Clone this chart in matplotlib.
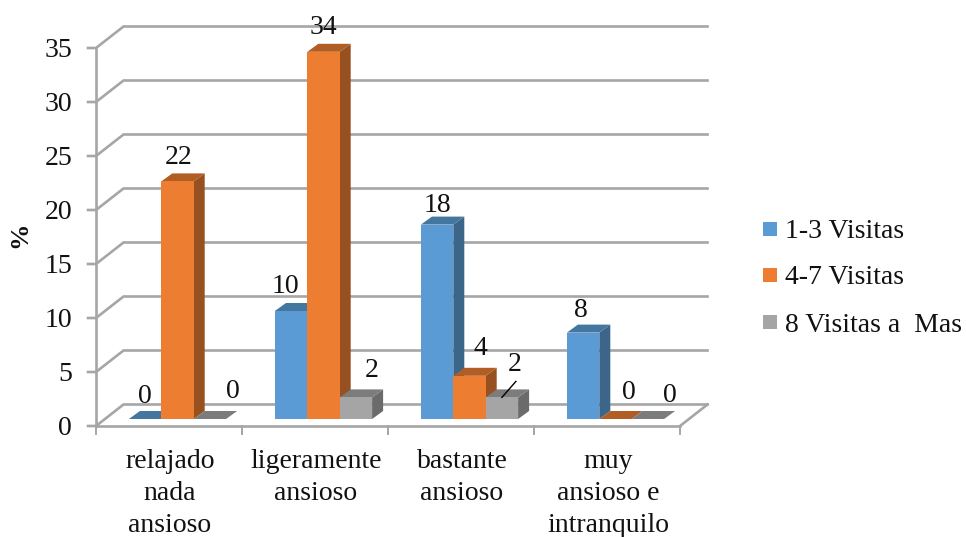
import matplotlib
matplotlib.use("Agg")
import matplotlib.pyplot as plt
from matplotlib.patches import Polygon, Rectangle

categories = ["relajado\nnada\nansioso", "ligeramente\nansioso", "bastante\nansioso", "muy\nansioso e\nintranquilo"]
series_names = ["1-3 Visitas", "4-7 Visitas", "8 Visitas a  Mas"]
visitas_1_3 = [0, 10, 18, 8]
visitas_4_7 = [22, 34, 4, 0]
visitas_8_mas = [0, 2, 2, 0]
y_ticks = [0, 5, 10, 15, 20, 25, 30, 35]

series = [visitas_1_3, visitas_4_7, visitas_8_mas]
front = ["#5B9BD5", "#ED7D31", "#A5A5A5"]
top = ["#44779F", "#B15E24", "#7C7C7C"]
side = ["#3B6589", "#97501F", "#6B6B6B"]
grid = "#A6A6A6"
text_col = "#111111"
fs = 20

W, H = 966, 537
plt.rcParams["font.family"] = ["Liberation Serif", "DejaVu Serif"]
fig = plt.figure(figsize=(W / 100, H / 100), dpi=100)
ax = fig.add_axes([96 / W, 1 - 426 / H, (680 - 96) / W, (426 - 48) / H])
ax.set_xlim(0, 4)
ax.set_ylim(0, 35)
ax.axis("off")

# 3d offsets, in data units
ux = 146.0
uy = 10.8
wall_dx, wall_dy = 27.5 / ux, 21.5 / uy
bar_dx, bar_dy = 11 / ux, 8 / uy
base_dx, base_dy = 8.5 / ux, 7 / uy
bar_w = 32.4 / ux

lw = 1.9
for v in y_ticks:
    ax.plot([-8 / ux, 0, wall_dx, 4 + wall_dx], [v, v, v + wall_dy, v + wall_dy],
            color=grid, lw=lw, clip_on=False, solid_joinstyle="miter", zorder=1)
ax.plot([4, 4 + wall_dx], [0, wall_dy], color=grid, lw=lw, clip_on=False, zorder=1)
ax.plot([0, 0], [0, 35], color=grid, lw=lw, clip_on=False, zorder=1)
ax.plot([0, 4], [0, 0], color=grid, lw=lw, clip_on=False, zorder=1)
for i in range(5):
    ax.plot([i, i], [0, -8 / uy], color=grid, lw=1.4, clip_on=False, zorder=1)

for v in y_ticks:
    ax.text(-24 / ux, v - 0.2, str(v), ha="right", va="center", fontsize=fs, color=text_col)
ax.text(-76 / ux, 17.5 + 0.2, "%", rotation=90, ha="center", va="center",
        fontsize=19, fontweight="bold", color=text_col)

# bars, drawn left to right so each one covers the side of the previous
for c in range(len(categories)):
    for s in range(len(series)):
        x0 = c + 0.5 + (s - 1.5) * bar_w + base_dx
        y0 = base_dy
        v = series[s][c]
        x1 = x0 + bar_w
        y1 = y0 + v
        ax.add_patch(Polygon([(x1, y0), (x1 + bar_dx, y0 + bar_dy), (x1 + bar_dx, y1 + bar_dy), (x1, y1)],
                             fc=side[s], ec="none", clip_on=False, zorder=3))
        ax.add_patch(Polygon([(x0, y1), (x1, y1), (x1 + bar_dx, y1 + bar_dy), (x0 + bar_dx, y1 + bar_dy)],
                             fc=top[s], ec="none", clip_on=False, zorder=3))
        ax.add_patch(Rectangle((x0, y0), bar_w, v, fc=front[s], ec="none", clip_on=False, zorder=3))

label_pos = {
    (0, 0): (-6, -2), (0, 1): (-4, -1), (0, 2): (17, 3),
    (1, 0): (-11, 0), (1, 1): (-6, 0), (1, 2): (10, 2),
    (2, 0): (-5, -5), (2, 1): (5, 3), (2, 2): (7, 8),
    (3, 0): (-8, -2), (3, 1): (8, 2), (3, 2): (16, -1),
}
for c in range(len(categories)):
    for s in range(len(series)):
        x0 = c + 0.5 + (s - 1.5) * bar_w + base_dx
        v = series[s][c]
        ox, oy = label_pos[(c, s)]
        ax.text(x0 + bar_w / 2 + bar_dx / 2 + ox / ux, base_dy + v + bar_dy + (4 + oy) / uy, str(v),
                ha="center", va="bottom", fontsize=fs, color=text_col, zorder=5)

# leader line of the small 2 on bastante ansioso
lead_x = 2 + 0.5 + 0.5 * bar_w + base_dx + 0.5 * bar_w
ax.plot([lead_x, lead_x + 14 / ux], [base_dy + 2, base_dy + 2 + 16 / uy],
        color="black", lw=1, clip_on=False, zorder=5)

for c, name in enumerate(categories):
    ax.text(c + 0.5 + 1 / ux, -22.5 / uy, name, ha="center", va="top", fontsize=fs,
            linespacing=1.385, color=text_col)

# legend
leg_y = [229, 275, 322]
for name, col, py in zip(series_names, front, leg_y):
    fig.patches.append(Rectangle((763 / W, 1 - (py + 7) / H), 14 / W, 14 / H, fc=col, ec="none",
                                 transform=fig.transFigure))
    fig.text(785 / W, 1 - (py + 3) / H, name, ha="left", va="center", fontsize=fs, color=text_col)

fig.savefig("out.png", dpi=100)
